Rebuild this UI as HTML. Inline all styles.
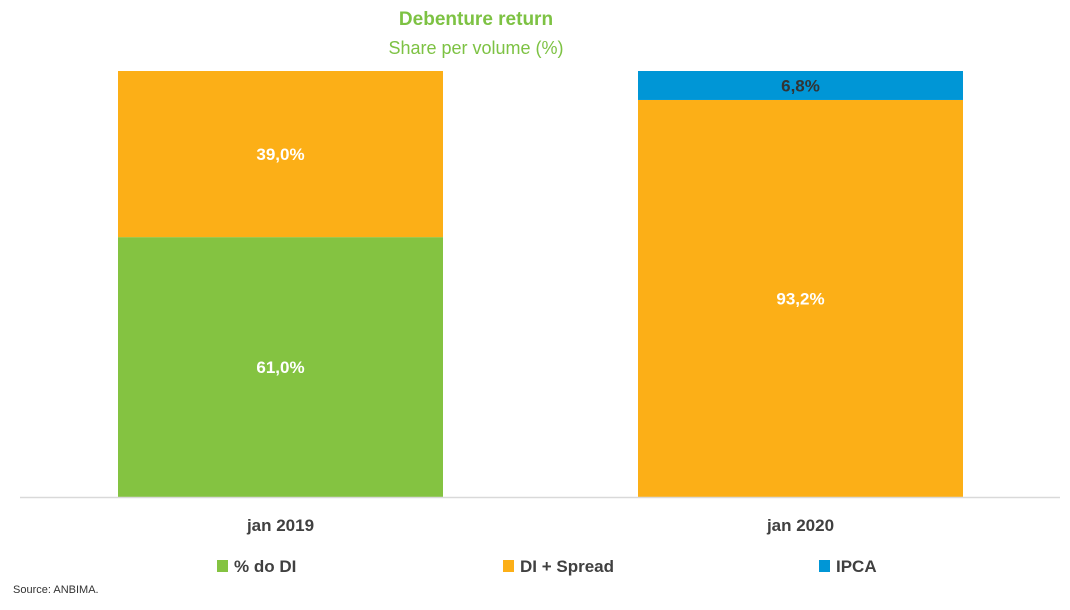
<!DOCTYPE html>
<html><head><meta charset="utf-8"><style>
body{margin:0;background:#fff;font-family:"Liberation Sans",sans-serif}
svg text{font-family:"Liberation Sans",sans-serif}
</style></head><body>
<svg width="1070" height="605" viewBox="0 0 1070 605">
<text x="476" y="25" text-anchor="middle" font-size="19" font-weight="bold" fill="#7DC243">Debenture return</text>
<text x="476" y="54" text-anchor="middle" font-size="18" fill="#7DC243">Share per volume (%)</text>
<g id="bars"></g>
<line x1="20" y1="497.5" x2="1060" y2="497.5" stroke="#d9d9d9" stroke-width="1.5"/>
<g id="xlabels"></g>
<g id="legend"></g>
<text x="13" y="593" font-size="11" fill="#333">Source: ANBIMA.</text>
</svg>
<script>
const categories = ["jan 2019", "jan 2020"];
const seriesNames = ["% do DI", "DI + Spread", "IPCA"];
const pctDI = [61.0, 0];
const diSpread = [39.0, 93.2];
const ipca = [0, 6.8];
const colors = ["#84C341", "#FCAF17", "#0096D6"];
const labelColors = ["#fff", "#fff", "#333"];
const series = [pctDI, diSpread, ipca];
const NS = "http://www.w3.org/2000/svg";
const baseY = 497, topY = 71, H = baseY - topY;
const barW = 325, centers = [280.5, 800.5];
const y = v => baseY - v / 100 * H;
const gB = document.getElementById('bars'), gX = document.getElementById('xlabels'), gL = document.getElementById('legend');
categories.forEach((c, i) => {
  let cum = 0;
  series.forEach((s, k) => {
    const v = s[i];
    if (v > 0) {
      const r = document.createElementNS(NS, 'rect');
      r.setAttribute('x', centers[i] - barW / 2);
      r.setAttribute('y', y(cum + v));
      r.setAttribute('width', barW);
      r.setAttribute('height', y(cum) - y(cum + v));
      r.setAttribute('fill', colors[k]);
      
      
      gB.appendChild(r);
      const t = document.createElementNS(NS, 'text');
      t.setAttribute('x', centers[i]);
      t.setAttribute('y', (y(cum) + y(cum + v)) / 2 + 6);
      t.setAttribute('text-anchor', 'middle');
      t.setAttribute('font-size', '17');
      t.setAttribute('font-weight', 'bold');
      t.setAttribute('fill', labelColors[k]);
      
      
      t.textContent = v.toFixed(1).replace('.', ',') + '%';
      gB.appendChild(t);
    }
    cum += v;
  });
  const xl = document.createElementNS(NS, 'text');
  xl.setAttribute('x', centers[i]);
  xl.setAttribute('y', 531);
  xl.setAttribute('text-anchor', 'middle');
  xl.setAttribute('font-size', '17');
  xl.setAttribute('font-weight', 'bold');
  xl.setAttribute('fill', '#404040');
  
  
  xl.textContent = c;
  gX.appendChild(xl);
});
const legX = [217, 503, 819];
seriesNames.forEach((n, k) => {
  const r = document.createElementNS(NS, 'rect');
  r.setAttribute('x', legX[k]); r.setAttribute('y', 560);
  r.setAttribute('width', 11); r.setAttribute('height', 12);
  r.setAttribute('fill', colors[k]);
  
  
  gL.appendChild(r);
  const t = document.createElementNS(NS, 'text');
  t.setAttribute('x', legX[k] + 17); t.setAttribute('y', 572);
  t.setAttribute('font-size', '17'); t.setAttribute('font-weight', 'bold');
  t.setAttribute('fill', '#404040');
  
  
  t.textContent = n;
  gL.appendChild(t);
});
</script>
</body></html>
